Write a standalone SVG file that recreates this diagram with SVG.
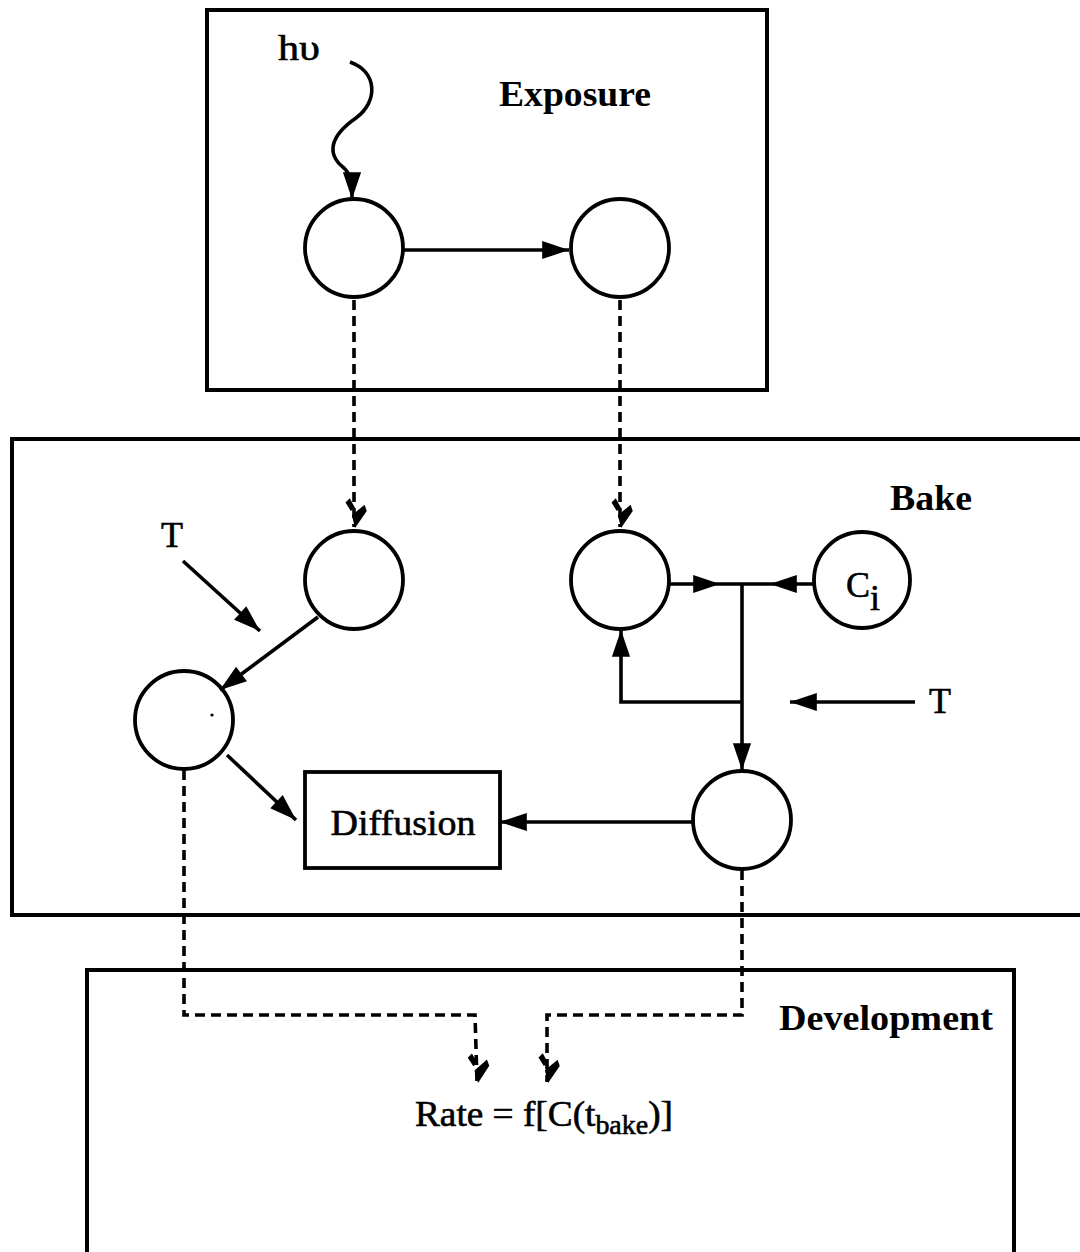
<svg xmlns="http://www.w3.org/2000/svg" width="1080" height="1252" viewBox="0 0 1080 1252">
  <style>
    .frame { fill: none; stroke: #000; stroke-width: 4; }
    .node { fill: #fff; stroke: #000; stroke-width: 3.8; }
    .edge { fill: none; stroke: #000; stroke-width: 3.6; }
    .dash { fill: none; stroke: #000; stroke-width: 3.6; stroke-dasharray: 10 6; }
    .title { font-family: "Liberation Serif", "Times New Roman", serif; font-weight: bold; font-size: 35px; fill: #000; }
    .lbl { font-family: "Liberation Serif", "Times New Roman", serif; font-size: 36px; fill: #000; stroke: #000; stroke-width: 0.6; }
  </style>
  <defs>
    <marker id="arrow" markerUnits="userSpaceOnUse" markerWidth="30" markerHeight="22" viewBox="-26 -9 28 18" refX="0" refY="0" orient="auto">
      <path d="M0,0 L-25,-8.5 L-25,8.5 Z" fill="#000"/>
    </marker>
    <marker id="dashHead" markerUnits="userSpaceOnUse" markerWidth="34" markerHeight="34" viewBox="-30 -16 32 32" refX="0" refY="0" orient="auto">
      <path d="M1,-1 L-11,2 L-21,-10 L-15,-12 Z" fill="#000"/>
      <path d="M-23,8 L-27,4 L-18,-1 L-15,3 Z" fill="#000"/>
    </marker>
  </defs>

  <!-- stage frames -->
  <g id="exposure">
    <rect class="frame" x="207" y="10" width="560" height="380"/>
    <text class="title" x="575" y="106" text-anchor="middle" textLength="152" lengthAdjust="spacingAndGlyphs">Exposure</text>
  </g>
  <g id="bake">
    <rect class="frame" x="12" y="439" width="1080" height="476"/>
    <text class="title" x="931" y="510" text-anchor="middle" textLength="82" lengthAdjust="spacingAndGlyphs">Bake</text>
  </g>
  <g id="development">
    <rect class="frame" x="87" y="970" width="927" height="300"/>
    <text class="title" x="886" y="1030" text-anchor="middle" textLength="214" lengthAdjust="spacingAndGlyphs">Development</text>
  </g>

  <!-- nodes -->
  <g id="n-exp-a"><circle class="node" cx="354" cy="248" r="49"/></g>
  <g id="n-exp-b"><circle class="node" cx="620" cy="248" r="49"/></g>
  <g id="n-bake-a"><circle class="node" cx="354" cy="580" r="49"/></g>
  <g id="n-bake-b"><circle class="node" cx="620" cy="580" r="49"/></g>
  <g id="n-ci">
    <circle class="node" cx="862" cy="580" r="48"/>
    <text class="lbl" x="846" y="597" font-size="36">C</text>
    <text class="lbl" x="870" y="610" font-size="27">i</text>
  </g>
  <g id="n-bake-c">
    <circle class="node" cx="184" cy="720" r="49"/>
    <circle cx="212" cy="715" r="1.6" fill="#000"/>
  </g>
  <g id="n-bake-d"><circle class="node" cx="742" cy="820" r="49"/></g>
  <g id="n-diffusion">
    <rect class="node" x="305" y="772" width="195" height="96"/>
    <text class="lbl" x="403" y="835" text-anchor="middle" textLength="145" lengthAdjust="spacingAndGlyphs">Diffusion</text>
  </g>

  <!-- free labels -->
  <g id="labels">
    <text class="lbl" x="278" y="60" font-size="34" textLength="42" lengthAdjust="spacingAndGlyphs">hυ</text>
    <text class="lbl" x="161" y="547" font-size="36">T</text>
    <text class="lbl" x="929" y="713" font-size="36">T</text>
    <text class="lbl" x="415" y="1126" font-size="36" textLength="258" lengthAdjust="spacingAndGlyphs">Rate = f[C(t<tspan font-size="27" dy="8">bake</tspan><tspan dy="-8">)]</tspan></text>
  </g>

  <!-- connectors -->
  <g id="connectors">
    <path class="edge" d="M350,62 C378,72 378,102 356,118 C330,136 326,154 344,168 C352,176 352,184 352,199" marker-end="url(#arrow)"/>
    <line class="edge" x1="403" y1="250" x2="569" y2="250" marker-end="url(#arrow)"/>

    <line class="dash" x1="354" y1="300" x2="354" y2="527" marker-end="url(#dashHead)"/>
    <line class="dash" x1="620" y1="300" x2="620" y2="527" marker-end="url(#dashHead)"/>

    <line class="edge" x1="183" y1="561" x2="260" y2="631" marker-end="url(#arrow)"/>
    <line class="edge" x1="318" y1="617" x2="220" y2="690" marker-end="url(#arrow)"/>
    <line class="edge" x1="227" y1="755" x2="296" y2="820" marker-end="url(#arrow)"/>
    <line class="edge" x1="692" y1="822" x2="500" y2="822" marker-end="url(#arrow)"/>

    <line class="edge" x1="669" y1="584" x2="720" y2="584" marker-end="url(#arrow)"/>
    <line class="edge" x1="720" y1="584" x2="770" y2="584"/>
    <line class="edge" x1="814" y1="584" x2="770" y2="584" marker-end="url(#arrow)"/>
    <line class="edge" x1="742" y1="584" x2="742" y2="770" marker-end="url(#arrow)"/>
    <path class="edge" d="M742,702 L621,702 L621,630" marker-end="url(#arrow)"/>
    <line class="edge" x1="915" y1="702" x2="790" y2="702" marker-end="url(#arrow)"/>

    <path class="dash" d="M184,770 L184,1015 L475,1015 L477,1082" marker-end="url(#dashHead)"/>
    <path class="dash" d="M742,870 L742,1015 L547,1015 L547,1082" marker-end="url(#dashHead)"/>
  </g>
</svg>
